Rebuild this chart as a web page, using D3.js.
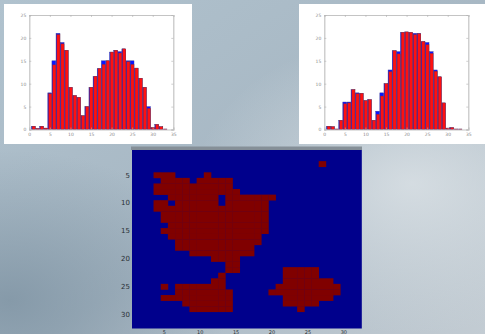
<!DOCTYPE html>
<html>
<head>
<meta charset="utf-8">
<script src="https://cdn.jsdelivr.net/npm/d3@7"></script>
<style>
  html, body { margin: 0; padding: 0; overflow: hidden; }
  svg { display: block; }
  text { font-family: "DejaVu Sans", sans-serif; }
</style>
</head>
<body>
<div id="draw"></div>
<script>
// histogram bins 1..33
var bins = d3.range(1, 34);
var leftRed  = [0.7, 0.2, 0.7, 0.3, 7.8, 14.1, 20.7, 18.7, 17.3, 9.2, 7.4, 7.0, 3.0, 5.0, 9.2, 11.6, 13.3,
                14.2, 15.0, 16.9, 17.3, 16.7, 17.6, 14.8, 14.2, 13.4, 11.2, 9.2, 4.6, 0.4, 1.1, 0.6, 0.1];
var leftBlue = [0.7, 0.2, 0.7, 0.3, 8.0, 15.0, 21.0, 19.0, 17.3, 9.2, 7.4, 7.0, 3.0, 5.0, 9.2, 11.6, 13.3,
                15.0, 15.0, 16.9, 17.3, 17.0, 17.6, 15.0, 15.0, 13.4, 11.2, 9.2, 5.0, 0.4, 1.1, 0.6, 0.1];
var rightRed  = [0.7, 0.6, 0.1, 2.0, 5.6, 5.8, 8.7, 7.8, 7.9, 6.3, 6.5, 2.0, 3.3, 7.3, 10.0, 12.6, 17.2,
                 16.5, 21.2, 21.3, 21.2, 20.7, 20.9, 19.2, 18.5, 16.6, 12.7, 11.5, 5.8, 0.3, 0.4, 0.1, 0.1];
var rightBlue = [0.7, 0.6, 0.1, 2.0, 6.0, 6.0, 8.7, 8.0, 7.9, 6.3, 6.5, 2.0, 4.0, 8.0, 10.0, 13.0, 17.2,
                 17.0, 21.2, 21.3, 21.2, 21.0, 21.0, 19.2, 19.0, 17.0, 13.0, 11.5, 5.8, 0.3, 0.4, 0.1, 0.1];
var histXTicks = [0, 5, 10, 15, 20, 25, 30, 35];
var histYTicks = [0, 5, 10, 15, 20, 25];

// binary image 32x32, red runs per row [from, to] (1-based, inclusive)
var maskRuns = {
  3: [[27, 27]],
  5: [[4, 6], [11, 11]],
  6: [[5, 8], [10, 14]],
  7: [[4, 14]],
  8: [[4, 15]],
  9: [[6, 12], [14, 20]],
  10: [[4, 5], [7, 12], [14, 19]],
  11: [[4, 19]],
  12: [[5, 19]],
  13: [[5, 19]],
  14: [[6, 19]],
  15: [[5, 19]],
  16: [[6, 18]],
  17: [[7, 18]],
  18: [[7, 17]],
  19: [[9, 17]],
  20: [[12, 15]],
  21: [[14, 15]],
  22: [[14, 15], [22, 26]],
  23: [[13, 13], [22, 26]],
  24: [[12, 13], [22, 28]],
  25: [[5, 5], [7, 13], [21, 29]],
  26: [[7, 14], [20, 29]],
  27: [[5, 14], [22, 28]],
  28: [[8, 14], [22, 26]],
  29: [[9, 14], [24, 24]]
};
var imgTicks = [5, 10, 15, 20, 25, 30];

var width = 485, height = 334;
var svg = d3.select("#draw").append("svg")
  .attr("width", width)
  .attr("height", height);

// slide background
var defs = svg.append("defs");
var lg = defs.append("linearGradient").attr("id", "bg")
  .attr("x1", "0").attr("y1", "0").attr("x2", "1").attr("y2", "1");
lg.append("stop").attr("offset", "0").attr("stop-color", "#b0c2ce");
lg.append("stop").attr("offset", "0.55").attr("stop-color", "#a7b7c3");
lg.append("stop").attr("offset", "1").attr("stop-color", "#c3ccd3");
var rg = defs.append("radialGradient").attr("id", "glow")
  .attr("cx", "0.85").attr("cy", "0.55").attr("r", "0.45");
rg.append("stop").attr("offset", "0").attr("stop-color", "#e4e9ec").attr("stop-opacity", 0.7);
rg.append("stop").attr("offset", "1").attr("stop-color", "#e4e9ec").attr("stop-opacity", 0);
var rg2 = defs.append("radialGradient").attr("id", "shade")
  .attr("cx", "0.02").attr("cy", "0.9").attr("r", "0.45");
rg2.append("stop").attr("offset", "0").attr("stop-color", "#7d92a2").attr("stop-opacity", 0.8);
rg2.append("stop").attr("offset", "1").attr("stop-color", "#7d92a2").attr("stop-opacity", 0);

svg.append("rect").attr("width", width).attr("height", height).attr("fill", "url(#bg)");
svg.append("rect").attr("width", width).attr("height", height).attr("fill", "url(#glow)");
svg.append("rect").attr("width", width).attr("height", height).attr("fill", "url(#shade)");

function drawHist(left, top, red, blue) {
  var g = svg.append("g").attr("transform", "translate(" + left + "," + top + ")");
  g.append("rect").attr("x", 0).attr("y", 0).attr("width", 188).attr("height", 140).attr("fill", "#ffffff");

  var x = d3.scaleLinear().domain([0, 35]).range([25.3, 169.3]);
  var y = d3.scaleLinear().domain([0, 25]).range([125.5, 11]);

  // blue bars underneath
  g.selectAll(".blue")
    .data(bins)
    .enter()
    .append("rect")
    .attr("x", function(d){ return x(d - 0.5); })
    .attr("y", function(d, i){ return y(blue[i]); })
    .attr("width", x(0.95) - x(0))
    .attr("height", function(d, i){ return y(0) - y(blue[i]); })
    .attr("fill", "#0a14ff")
    .attr("stroke", "#3a3a90")
    .attr("stroke-width", 0.4);

  g.selectAll(".red")
    .data(bins)
    .enter()
    .append("rect")
    .attr("x", function(d){ return x(d - 0.3); })
    .attr("y", function(d, i){ return y(red[i]); })
    .attr("width", x(0.75) - x(0))
    .attr("height", function(d, i){ return y(0) - y(red[i]); })
    .attr("fill", "#ff1010")
    .attr("stroke", "#8a3030")
    .attr("stroke-width", 0.4);

  var tickCol = "#c4c4c4";
  var ax = [
    d3.axisBottom(x).tickValues(histXTicks).tickSize(-2).tickPadding(3),
    d3.axisTop(x).tickValues(histXTicks).tickSize(-2).tickFormat(""),
    d3.axisLeft(y).tickValues(histYTicks).tickSize(-2).tickPadding(3),
    d3.axisRight(y).tickValues(histYTicks).tickSize(-2).tickFormat("")
  ];
  var pos = [
    "translate(0," + y(0) + ")",
    "translate(0," + y(25) + ")",
    "translate(" + x(0) + ",0)",
    "translate(" + x(35) + ",0)"
  ];
  ax.forEach(function(a, i){
    var ag = g.append("g").attr("transform", pos[i]).call(a);
    ag.select(".domain").attr("stroke", tickCol).attr("stroke-width", 1.2);
    ag.selectAll(".tick line").attr("stroke", "#b0b0b0").attr("stroke-width", 0.6);
    ag.selectAll(".tick text").attr("fill", "#8a8a8a").style("font-size", "4.5px");
  });
}

drawHist(4, 4, leftRed, leftBlue);
drawHist(299, 4, rightRed, rightBlue);

// binary image
var ix = d3.scaleLinear().domain([0.5, 32.5]).range([132, 361.8]);
var iy = d3.scaleLinear().domain([0.5, 32.5]).range([150, 328.5]);

svg.append("rect").attr("x", 131).attr("y", 146.5).attr("width", 231).attr("height", 3.5).attr("fill", "#858f97");
svg.append("rect")
  .attr("x", ix(0.5)).attr("y", iy(0.5))
  .attr("width", ix(32.5) - ix(0.5)).attr("height", iy(32.5) - iy(0.5))
  .attr("fill", "#00008c");

var cells = [];
Object.keys(maskRuns).forEach(function(r){
  maskRuns[r].forEach(function(run){
    for (var c = run[0]; c <= run[1]; ++c) cells.push({ row: +r, col: c });
  });
});

svg.selectAll(".cell")
  .data(cells)
  .enter()
  .append("rect")
  .attr("x", function(d){ return ix(d.col - 0.5); })
  .attr("y", function(d){ return iy(d.row - 0.5); })
  .attr("width", ix(1.5) - ix(0.5) + 0.3)
  .attr("height", iy(1.5) - iy(0.5) + 0.3)
  .attr("fill", "#800000");

svg.selectAll(".ylab")
  .data(imgTicks)
  .enter()
  .append("text")
  .attr("x", 130)
  .attr("y", function(d){ return iy(d) + 2.5; })
  .attr("text-anchor", "end")
  .attr("fill", "#2a2f35")
  .style("font-size", "7px")
  .text(function(d){ return d; });

svg.selectAll(".xlab")
  .data(imgTicks)
  .enter()
  .append("text")
  .attr("x", function(d){ return ix(d); })
  .attr("y", 333.6)
  .attr("text-anchor", "middle")
  .attr("fill", "#2a2f35")
  .style("font-size", "5px")
  .text(function(d){ return d; });
</script>
</body>
</html>
